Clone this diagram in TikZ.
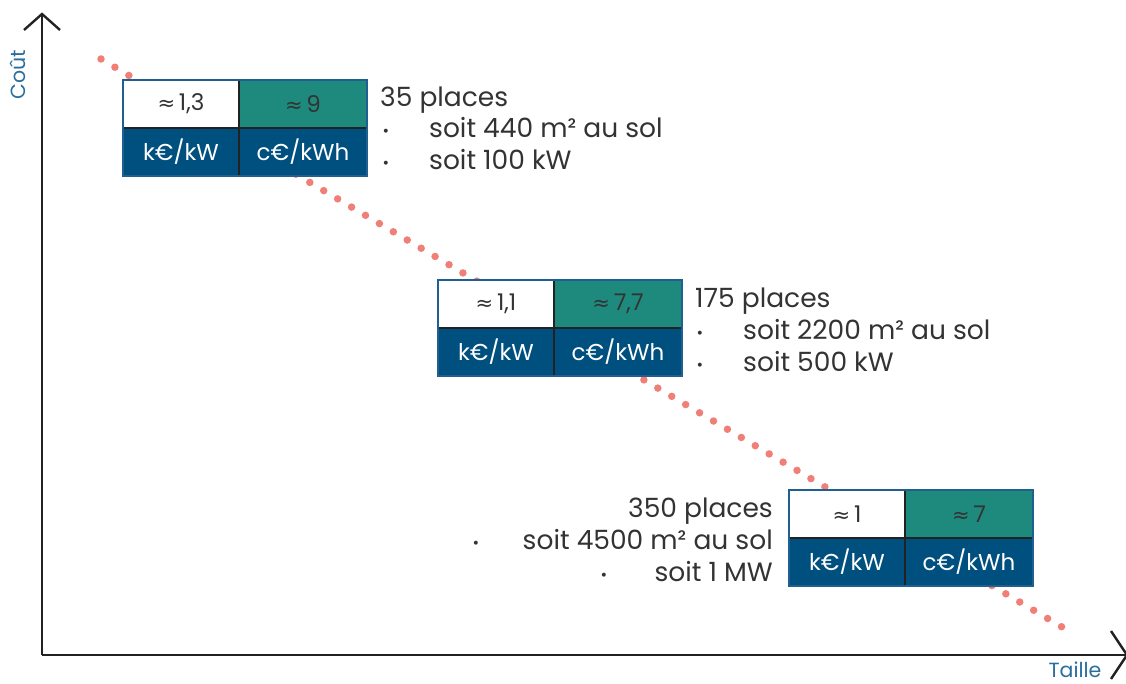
\documentclass[tikz,border=0pt]{standalone}
\usepackage{fontspec}
\setmainfont{Poppins}
\newfontfamily\symf{DejaVu Sans}
\definecolor{txt}{HTML}{333333}
\definecolor{tealc}{HTML}{1E8A7E}
\definecolor{navy}{HTML}{00507F}
\definecolor{framec}{HTML}{1F5F92}
\definecolor{axisc}{HTML}{222222}
\definecolor{dotc}{HTML}{F07F78}
\definecolor{lblc}{HTML}{2A6E9E}
\newcommand\ap{{\symf\fontsize{21}{24}\selectfont≈}\,}
\tikzset{
  cell/.style={minimum height=48pt, inner sep=0pt, outer sep=0pt, anchor=north west, font=\fontsize{23}{28}\selectfont},
  valw/.style={cell, fill=white, text=txt, minimum width=116pt},
  valt/.style={cell, fill=tealc, text=txt, minimum width=128pt},
  unitk/.style={cell, fill=navy, text=white, minimum width=116pt},
  unitc/.style={cell, fill=navy, text=white, minimum width=128pt},
  sepline/.style={draw=axisc, line width=2.6pt},
  frameline/.style={draw=framec, line width=1.6pt},
  side/.style={inner sep=0pt, text=txt, font=\fontsize{26.5}{30}\selectfont},
  bul/.style={inner sep=0pt, text=txt, font=\fontsize{16}{18}\selectfont},
  axis/.style={draw=axisc, line width=2.4pt},
  axlbl/.style={inner sep=0pt, text=lblc, font=\fontsize{20.5}{24}\selectfont},
}
\newcommand\costbox[5]{%
  \node[valw] (#1a) at (#2,#3) {\ap #4};
  \node[valt] (#1b) at (#1a.north east) {\ap #5};
  \node[unitk] (#1c) at (#1a.south west) {k€/kW};
  \node[unitc] (#1d) at (#1a.south east) {c€/kWh};
  \draw[sepline] (#1a.south west) -- (#1d.north east);
  \draw[sepline] (#1a.north east) -- (#1c.south east);
  \draw[frameline] (#1a.north west) rectangle (#1d.south east);
}
\begin{document}
\begin{tikzpicture}[x=1pt,y=-1pt]
\useasboundingbox[fill=white] (0,0) rectangle (1126,684);
% dotted trend
\coordinate (d0) at (101,59);
\coordinate (d1) at (1062,627);
\draw[dotc, line width=7.5pt, line cap=round, dash pattern=on 0pt off 16.17pt] (d0) -- (d1);
% axes
\coordinate (o) at (42,655);
\coordinate (ytop) at (42,14);
\coordinate (xend) at (1127,655);
\draw[axis] (o) -- (ytop);
\draw[axis] (o) -- (xend);
\draw[axis, line join=miter] (24,30) -- (ytop) -- (60,30);
\draw[axis, line join=miter] (1111,631) -- (xend) -- (1111,679);
\node[axlbl, rotate=90] (ylbl) at (18,75) {Coût};
\node[axlbl] (xlbl) at (1075,670) {Taille};
% boxes
\costbox{p}{123}{80}{1,3}{9}
\costbox{q}{438}{280}{1,1}{7,7}
\costbox{r}{789}{490}{1}{7}
% side texts box 1
\node[side, anchor=base west] (p1) at (380,106.5) {35 places};
\node[bul, anchor=base] (pb2) at (386,137) {•};
\node[side, anchor=base west] (p2) at (429,138) {soit 440 m² au sol};
\node[bul, anchor=base] (pb3) at (386,169) {•};
\node[side, anchor=base west] (p3) at (429,170) {soit 100 kW};
% side texts box 2
\node[side, anchor=base west] (q1) at (695,307.5) {175 places};
\node[bul, anchor=base] (qb2) at (700,338) {•};
\node[side, anchor=base west] (q2) at (743,339) {soit 2200 m² au sol};
\node[bul, anchor=base] (qb3) at (700,370) {•};
\node[side, anchor=base west] (q3) at (743,371) {soit 500 kW};
% side texts box 3
\node[side, anchor=base east] (r1) at (773,517) {350 places};
\node[bul, anchor=base] (rb2) at (476,548) {•};
\node[side, anchor=base east] (r2) at (773,549) {soit 4500 m² au sol};
\node[bul, anchor=base] (rb3) at (604,580) {•};
\node[side, anchor=base east] (r3) at (773,581) {soit 1 MW};
\end{tikzpicture}
\end{document}
